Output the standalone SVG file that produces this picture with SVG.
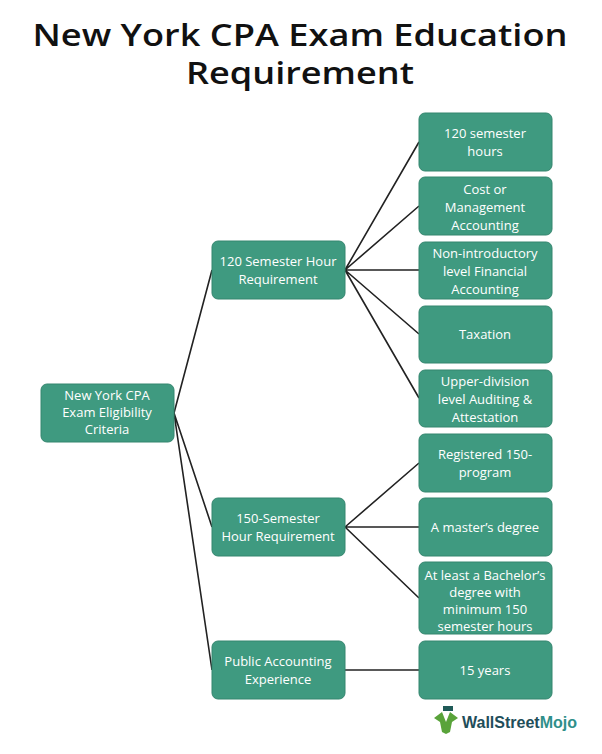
<svg xmlns="http://www.w3.org/2000/svg" width="602" height="754" viewBox="0 0 602 754">
<style>
.b{fill:#3f9a80;stroke:#35866f;stroke-width:1}
.t{font-family:"Open Sans","Liberation Sans",sans-serif;font-size:13px;fill:#fff;text-anchor:middle}
.c{stroke:#222;stroke-width:1.6;fill:none}
.h{font-family:"Open Sans","Liberation Sans",sans-serif;font-size:30px;font-weight:600;fill:#111;text-anchor:middle}
</style>
<rect width="602" height="754" fill="#fff"/>
<text class="h" x="300" y="46" textLength="535" lengthAdjust="spacingAndGlyphs">New York CPA Exam Education</text>
<text class="h" x="300" y="84" textLength="228" lengthAdjust="spacingAndGlyphs">Requirement</text>
<g id="connectors">
<path class="c" d="M174 413 L212 270 M174 413 L212 527 M174 413 L212 670"/>
<path class="c" d="M345 270 L419 142 M345 270 L419 206 M345 270 L419 270 M345 270 L419 334 M345 270 L419 398"/>
<path class="c" d="M345 527 L419 463 M345 527 L419 527 M345 527 L419 598"/>
<path class="c" d="M345 670 L419 670"/>
</g>
<g id="root"><rect class="b" x="41" y="384" width="133" height="58" rx="6"/><text class="t" x="107" y="400">New York CPA<tspan x="107" dy="17">Exam Eligibility</tspan><tspan x="107" dy="17">Criteria</tspan></text></g>
<g id="m1"><rect class="b" x="212" y="241" width="133" height="58" rx="6"/><text class="t" x="278" y="266">120 Semester Hour<tspan x="278" dy="18">Requirement</tspan></text></g>
<g id="m2"><rect class="b" x="212" y="498" width="133" height="58" rx="6"/><text class="t" x="278" y="523">150-Semester<tspan x="278" dy="18">Hour Requirement</tspan></text></g>
<g id="m3"><rect class="b" x="212" y="641" width="133" height="58" rx="6"/><text class="t" x="278" y="666">Public Accounting<tspan x="278" dy="18">Experience</tspan></text></g>
<g id="r1"><rect class="b" x="419" y="113" width="133" height="58" rx="6"/><text class="t" x="485" y="138">120 semester<tspan x="485" dy="18">hours</tspan></text></g>
<g id="r2"><rect class="b" x="419" y="177" width="133" height="58" rx="6"/><text class="t" x="485" y="194">Cost or<tspan x="485" dy="18">Management</tspan><tspan x="485" dy="18">Accounting</tspan></text></g>
<g id="r3"><rect class="b" x="419" y="242" width="133" height="57" rx="6"/><text class="t" x="485" y="258">Non-introductory<tspan x="485" dy="18">level Financial</tspan><tspan x="485" dy="18">Accounting</tspan></text></g>
<g id="r4"><rect class="b" x="419" y="306" width="133" height="57" rx="6"/><text class="t" x="485" y="339">Taxation</text></g>
<g id="r5"><rect class="b" x="419" y="370" width="133" height="57" rx="6"/><text class="t" x="485" y="386">Upper-division<tspan x="485" dy="18">level Auditing &amp;</tspan><tspan x="485" dy="18">Attestation</tspan></text></g>
<g id="r6"><rect class="b" x="419" y="434" width="133" height="58" rx="6"/><text class="t" x="485" y="459">Registered 150-<tspan x="485" dy="18">program</tspan></text></g>
<g id="r7"><rect class="b" x="419" y="498" width="133" height="58" rx="6"/><text class="t" x="485" y="532">A master’s degree</text></g>
<g id="r8"><rect class="b" x="419" y="562" width="133" height="72" rx="6"/><text class="t" x="485" y="580" font-size="12.5">At least a Bachelor’s<tspan x="485" dy="17">degree with</tspan><tspan x="485" dy="17">minimum 150</tspan><tspan x="485" dy="17">semester hours</tspan></text></g>
<g id="r9"><rect class="b" x="419" y="641" width="133" height="58" rx="6"/><text class="t" x="485" y="675">15 years</text></g>
<g id="logo">
<rect x="443" y="706" width="10" height="5" fill="#1f5a57"/>
<path d="M434 718 L442 712 L446 722 L450 712 L458 718 L452 722 L450 732 L446 734 L442 732 L440 722 Z" fill="#59a33a"/>
<text x="462" y="728" font-family="'Liberation Sans',sans-serif" font-weight="bold" font-size="16" fill="#1f4e5a">WallStreet<tspan fill="#2f8f8a">Mojo</tspan></text>
</g>
</svg>
